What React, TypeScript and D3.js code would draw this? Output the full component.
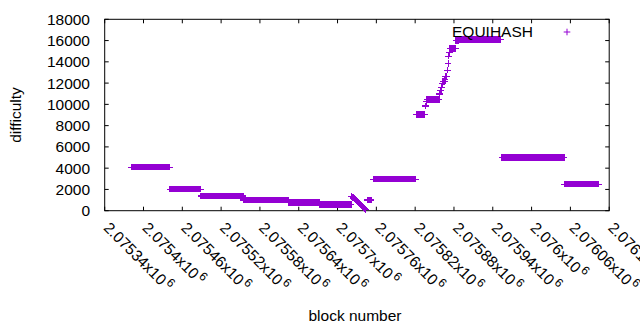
import React from "react";
import * as d3 from "d3";

// x tick values (block numbers) and y tick values (difficulty)
const xTickValues = [
  2075340, 2075400, 2075460, 2075520, 2075580, 2075640, 2075700,
  2075760, 2075820, 2075880, 2075940, 2076000, 2076060, 2076120,
];
const yTickValues = [0, 2000, 4000, 6000, 8000, 10000, 12000, 14000, 16000, 18000];

// Runs of consecutive blocks with the same difficulty (first block, last block, difficulty)
const runFirstBlock = [
  2075381, 2075441, 2075489, 2075555, 2075625, 2075673,
  2075722, 2075723, 2075724, 2075725, 2075726, 2075727, 2075728, 2075729, 2075730, 2075731,
  2075732, 2075733, 2075734, 2075735, 2075736, 2075737, 2075738, 2075739, 2075740, 2075741,
  2075742, 2075743,
  2075746, 2075755, 2075822,
  2075836, 2075837, 2075838, 2075858, 2075859, 2075861, 2075862, 2075863, 2075866, 2075867,
  2075868, 2075869, 2075870, 2075871, 2075872, 2075873, 2075874, 2075878, 2075883,
  2075888, 2075954, 2076051,
];
const runLastBlock = [
  2075440, 2075488, 2075554, 2075624, 2075672, 2075721,
  2075722, 2075723, 2075724, 2075725, 2075726, 2075727, 2075728, 2075729, 2075730, 2075731,
  2075732, 2075733, 2075734, 2075735, 2075736, 2075737, 2075738, 2075739, 2075740, 2075741,
  2075742, 2075743,
  2075752, 2075821, 2075835,
  2075836, 2075837, 2075857, 2075858, 2075860, 2075861, 2075862, 2075865, 2075866, 2075867,
  2075868, 2075869, 2075870, 2075871, 2075872, 2075873, 2075877, 2075882, 2075887,
  2075952, 2076050, 2076103,
];
const runDifficulty = [
  4100, 2030, 1380, 1000, 780, 610,
  1340, 1300, 1250, 1200, 1150, 1100, 1040, 980, 920, 860,
  800, 740, 680, 620, 560, 500, 440, 380, 320, 260,
  200, 140,
  1000, 2970, 9050,
  9840, 10250, 10450, 10970, 11340, 11600, 11970, 12150, 12350, 12620,
  12620, 12620, 13220, 13840, 14530, 14900, 15250, 15250, 16030,
  16100, 5030, 2500,
];

const seriesName = "EQUIHASH";
const color = "#9400d3";
const font = "'Liberation Sans', Arial, sans-serif";

const W = 640, H = 330;
const left = 104.7, right = 609.2, top = 19.3, bottom = 210.7;

function fmtMantissa(v: number) {
  let s = (v / 1e6).toPrecision(6);
  if (s.indexOf(".") >= 0) s = s.replace(/0+$/, "").replace(/\.$/, "");
  return s;
}

export default function App() {
  const x = d3.scaleLinear().domain([2075340, 2076120]).range([left, right]);
  const y = d3.scaleLinear().domain([0, 18000]).range([bottom, top]);

  const points: { b: number; d: number }[] = [];
  runFirstBlock.forEach((f, i) => {
    for (let b = f; b <= runLastBlock[i]; b++) points.push({ b, d: runDifficulty[i] });
  });

  const s = 3.3;
  const plus = (cx: number, cy: number) =>
    `M${cx - s},${cy}H${cx + s}M${cx},${cy - s}V${cy + s}`;
  const tl = 4;

  return (
    <div style={{ position: "absolute", left: 0, top: 0 }}>
      <svg width={W} height={H} style={{ display: "block", background: "#fff" }}>
        <rect x={0} y={0} width={W} height={H} fill="#fff" />
        {/* ticks */}
        {yTickValues.map((v) => (
          <g key={"y" + v}>
            <line x1={left} x2={left + tl} y1={y(v)} y2={y(v)} stroke="#000" />
            <line x1={right} x2={right - tl} y1={y(v)} y2={y(v)} stroke="#000" />
            <text x={90} y={y(v)} dy="0.36em" textAnchor="end" fontFamily={font} fontSize={15.5} fill="#000">
              {v}
            </text>
          </g>
        ))}
        {xTickValues.map((v) => (
          <g key={"x" + v}>
            <line x1={x(v)} x2={x(v)} y1={bottom} y2={bottom - tl} stroke="#000" />
            <line x1={x(v)} x2={x(v)} y1={top} y2={top + tl} stroke="#000" />
            <text
              transform={`translate(${x(v) - 2},${bottom + 18}) rotate(45)`}
              fontFamily={font}
              fontSize={15.5}
              fill="#000"
            >
              {fmtMantissa(v)}x10
              <tspan dx={2} dy={-6} fontSize={12}>6</tspan>
            </text>
          </g>
        ))}
        {/* frame */}
        <rect x={left} y={top} width={right - left} height={bottom - top} fill="none" stroke="#000" />
        {/* points */}
        <g stroke={color} strokeWidth={1.2} fill="none" shapeRendering="crispEdges">
          {points.map((p, i) => (
            <path key={i} d={plus(x(p.b), y(p.d))} />
          ))}
        </g>
        {/* legend */}
        <text x={533} y={37} textAnchor="end" fontFamily={font} fontSize={15.5} fill="#000">
          {seriesName}
        </text>
        <path d={plus(567, 32)} stroke={color} strokeWidth={1} fill="none" />
        {/* axis titles */}
        <text
          transform={`translate(21,${(top + bottom) / 2}) rotate(-90)`}
          textAnchor="middle"
          fontFamily={font}
          fontSize={15.5}
          fill="#000"
        >
          difficulty
        </text>
        <text x={355} y={321} textAnchor="middle" fontFamily={font} fontSize={15.5} fill="#000">
          block number
        </text>
      </svg>
    </div>
  );
}
